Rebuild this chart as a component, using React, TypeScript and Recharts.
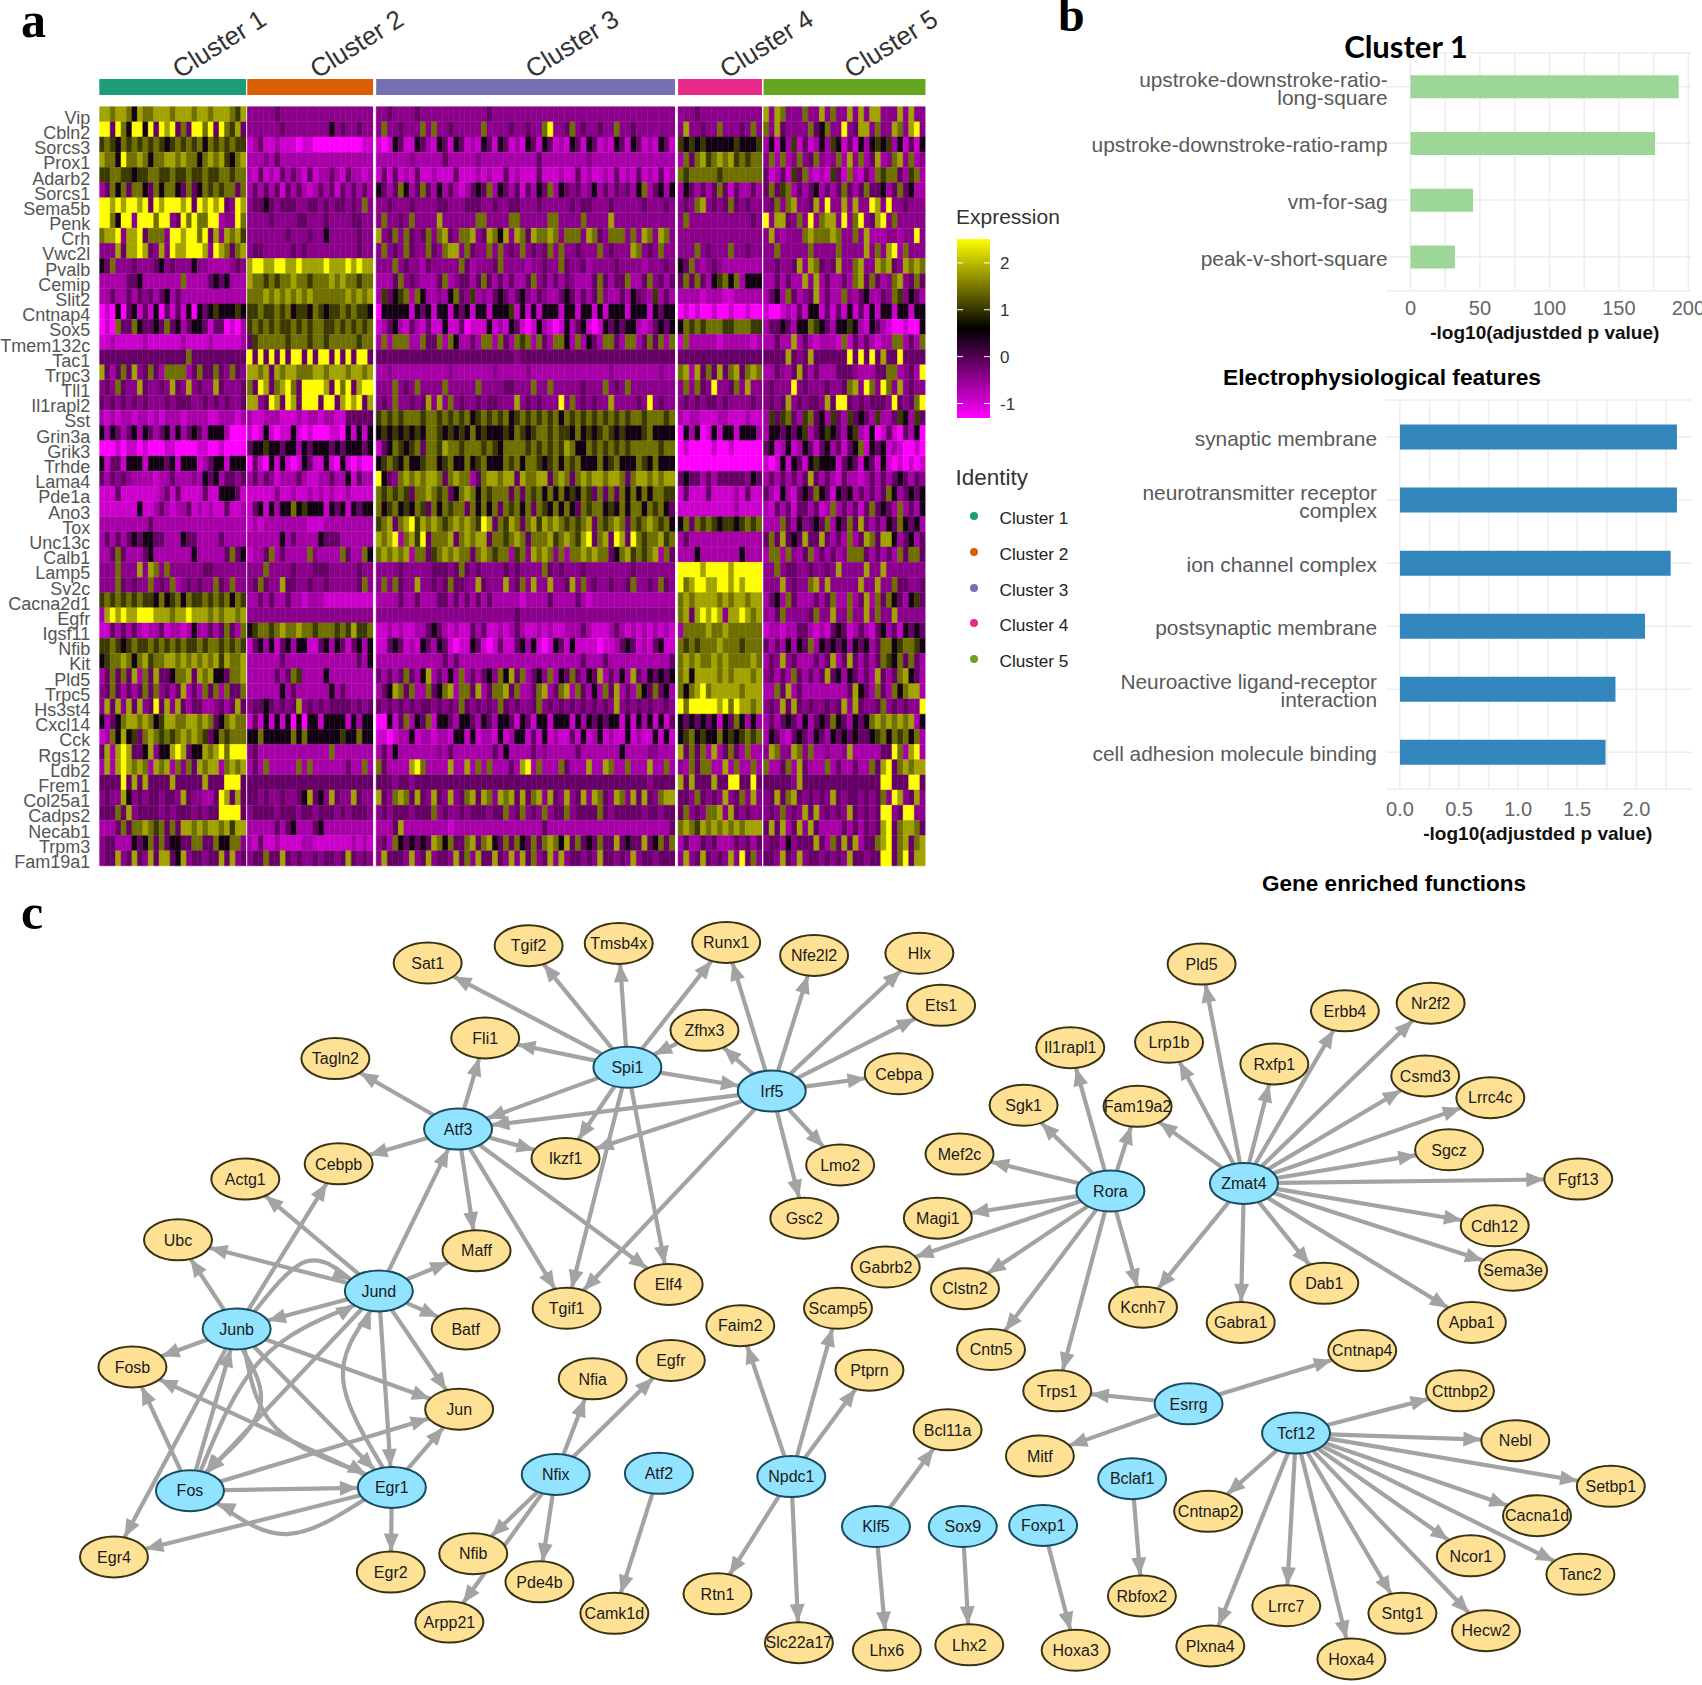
import { Bar, BarChart, CartesianGrid, Cell, ComposedChart, Line, Scatter, XAxis, YAxis } from 'recharts';

const genes = ['Vip', 'Cbln2', 'Sorcs3', 'Prox1', 'Adarb2', 'Sorcs1', 'Sema5b', 'Penk', 'Crh', 'Vwc2l', 'Pvalb', 'Cemip', 'Slit2', 'Cntnap4', 'Sox5', 'Tmem132c', 'Tac1', 'Trpc3', 'Tll1', 'Il1rapl2', 'Sst', 'Grin3a', 'Grik3', 'Trhde', 'Lama4', 'Pde1a', 'Ano3', 'Tox', 'Unc13c', 'Calb1', 'Lamp5', 'Sv2c', 'Cacna2d1', 'Egfr', 'Igsf11', 'Nfib', 'Kit', 'Pld5', 'Trpc5', 'Hs3st4', 'Cxcl14', 'Cck', 'Rgs12', 'Ldb2', 'Frem1', 'Col25a1', 'Cadps2', 'Necab1', 'Trpm3', 'Fam19a1'];
const clusterNames = ['Cluster 1', 'Cluster 2', 'Cluster 3', 'Cluster 4', 'Cluster 5'];
// estimated number of cells per cluster, and how many heat columns each one is read into
const clusterCells = [147, 126, 299, 84, 162];
const clusterColumns = [27, 23, 54, 15, 29];
const clusterGaps = [1, 3, 3, 1.5];
const clusterColors = ['#1B9E77', '#D95F02', '#7570B3', '#E7298A', '#66A61E'];

// expression per gene on a 0 (lowest) to 9 (highest) scale, one group per cluster
const heatRows = [
  '887887587788878887887888768 33333433333333333333333 334333343333333333334333333333333333333333333333333333 333433333333333 83873337338373383838833383833',
  '994975995949894749979497684 33333343333333353433433 373343337373343333373333433433793347343343373343333333 383343373334373 73843333745733934883733873893',
  '676576767676567676757676766 12411211101100000000011 101541154215415412154154121541541215415412154154121541 656565555565556 25152614125265141525656251415',
  '877597787577887877578786578 22232422222222222222222 222222322222422222322222222224222222223222222222222222 274786787867677 37272373473237283724823783723',
  '667766566776676676676677677 21412142421412242142212 141412141121114111212114121114111211412112141214121412 767777767777777 41241647212164172142767742672',
  '247574775475775474576767747 24242414242124241424242 542475247425242124547254241425472543423524243425724525 254242474142242 47467242452424742474452474522',
  '998989989498999894989894398 34454344433443434434373 334333433334433344433433443334333334344333433333433343 343783434743433 34737833483933838339839334333',
  '997599399979934979779923397 33334333344333433334433 373343733338333333773333773333377333373333833333333333 373333333333343 93884373937883937934893733333',
  '788938894777399899794838786 33333334333433533333433 834737434737843778348758387487787377738743777373873873 333333333333333 38323337877787337382223323393',
  '333848898438398899983987478 34433333434333333333433 373437433743788374337373437343473733433373433387343733 333734333733433 33733333733337333383738927333',
  '547333433345343335332222343 89988998898888988898988 333734332433333742333473333233433743342333343333233343 547323432222222 33433483874348337833878438787',
  '222224452222222722224545222 87767677877677787877677 222473432224723442474242422473424243222474244722473424 474742567572555 22424228382422427847423783474',
  '224224243424524222222222222 77787878787877777787878 264567275223257436232454245324322454242473224254326242 222212221122222 24527423482422732452243763542',
  '010504514150414150545655565 66766767566576566767665 055555154515515451551555615151555155155151555155515455 010100100100100 10012141551414151415155155155',
  '010744754454745245541440102 67676766767677667676767 124521421411511401115121541015210152451015454552124545 576767776677766 24454255765425565215421001005',
  '112111112111111211112111112 46777776777677677777677 272777227447275224277274276727427752725427742772474727 172222212222212 22422824212221714242122772427',
  '444444444444444474444444444 94949494994949949494994 444444444444444444444444434444444444444444444444444444 444444444444444 44448434844444494949484494444',
  '842474834742777724744743743 88784878877788788878878 223222222222232222222322222322222222222222322222222322 782847484784787 22432484242224443222447723429',
  '343743384334384383433843334 74984789749999849794899 333734373333733333733334433373373333343337343733333333 373743933473833 34333934333433478397397383433',
  '434343434333434443343434334 88349849849994994898948 343733434838373433434433383434333937343433833334393433 343434434333343 34348343443849943434443943479',
  '212122122121222122221122212 21122211121221221144444 676767776776767675676767567676767576767676767677677767 212211122111211 26467426745264264542622465264',
  '525424525424525245425552000 10151011510100011051515 565656565776565657565556576567767665756567656555675555 052501515515552 25545456245654256215014104250',
  '000101101000110000110010000 45565545525455545455545 145765674776877677767657777676767687557676767677777677 010000100100000 45125125414524145715451210010',
  '514415551555451555124551555 04105151015411510510100 567657556775675575675557675776567576755575675557657555 000000000000000 10151541565551454154151010101',
  '424343222212242223254524434 24243122242112242251422 954378787887478772478878848778847874787887887478878788 454424244444354 24242424842421422124242454243',
  '111411111112414111141155541 11111311211212121121111 767676477876745787576777474767575756576474747575757766 141114111121411 42152145475415452424247524545',
  '111111151124212241212114112 14515255756555154515455 756756576475767747575747675747657575476775657577576754 111111111121111 21424144241272424147454272425',
  '222222222422222222222222222 12122222222111222222222 678478968787678787698476874786878767678476787476787675 574767656656767 22274253454725474842425475452',
  '242424545544222544222242222 22222252422225444222222 878927869477784787884776787477786787689478498497677867 242222222222222 47484548448424272487488524524',
  '224742224522222225222224745 12247242222732222742275 787878277467878774787677267387873727787877457867678274 222522222225222 27727324724242377742424274774',
  '333733383873733333344333333 33373333433344433333433 333343333344434743433334343333743433343333333343333333 999989999899999 33734433433438333383383333333',
  '333743433734372343433743733 34743384433433433333473 373743383343474433843338347383383348373433433473343743 978998899898999 33383433783833333833833744334',
  '676767676657567576676767576 22424224221222111111111 222242242224424242424222221222242222421222222222222222 787888878788788 24527422242472272482747542564',
  '289898899988878898887878878 33333333333333333333333 333333333333333333333333343333333333333333333333333333 784898983889878 32473333473383373383733833333',
  '114242421224122125224247427 56776787787767776768667 112121122454212114241121242112121122242111242121212121 277778778777777 12212244212145412421452415454',
  '667656766767676766767767676 14525145255114525414525 114541215425410115410141145251015415111101124541214511 767677787776777 42425254725454525452477567765',
  '567787578677887878787868778 22222242222222222222425 222222222222424222222222222222222222242224222222222224 787877878777787 24383422242482484242476574742',
  '247474827484457784878554778 22222424762222522222222 424247425824252724245375847245372547425482425284254545 785888878788878 34242742424845254242842478542',
  '347424247473424824274727447 22222252422222252422222 245874722745782774824778472247824782742527482427547452 757897888887888 22748242222222248542742757882',
  '384838483494838424422342484 34454343483434344443434 434343434434343743434374343347343434343434383434343343 979999989798878 34384843433434838433473434339',
  '524578878756887788787457877 14151515050551555515255 005147254715542554254255415415515551525454551515251514 545454515475252 24245425245475425457878787825',
  '127585647876767878764576777 55755555757555555655755 110122512212215515122151255141512114151251211512115151 567565575656767 25421454254254545445675767572',
  '482898445835589845587897999 34222222222222272222222 242522222223242222222425222242322222422222225222233222 847472824742722 38733873722322382222244972892',
  '282898787287827374878827878 24272222272722222242272 742222897222282282727222428927222742228228722722282272 327477228272272 72247284222724224227489478788',
  '444494848444484444484449994 44444444444444444444444 444344344444444444444444444444444444444444444444434444 848444844994494 44444384444444444444499444994',
  '343385343443443843322498484 44343343345845384338433 843787484384383478487387848478384383483874387384843788 443743438347383 34847843434384344343473983483',
  '444748344443434443434499994 34444344434434443434443 343444344473433434443447347343734473444474344444344344 473437783843433 34373438483434384343499349933',
  '222474778767474887878878688 22222424522245222222222 222482222222212222222222222222422222222222222222222224 787687878787888 48482483842222424243489478874',
  '344222545747455447744755773 21411211112211111112121 342754545487574478478547475474787584745474484544845747 242243422243424 34425344484274848244789478478',
  '344834843848845834434484834 34474484343343443484343 384443834834438473844843838473483834434384434383443444 383484343839473 44384383443434384434499479488',
];
const levelColors = ['#FF00FF', '#CC00CC', '#A800A8', '#8B008B', '#660066', '#140014', '#3A3A00', '#707000', '#A3A300', '#FFFF00'];

const expressionTicks = [-1, 0, 1, 2];
const expressionRange = [-1.31, 2.51];

const ephysLabels = ['upstroke-downstroke-ratio-\nlong-square', 'upstroke-downstroke-ratio-ramp', 'vm-for-sag', 'peak-v-short-square'];
const ephysValues = [193, 176, 45, 32];
const ephysTicks = [0, 50, 100, 150, 200];
const ephysGrid = [0, 25, 50, 75, 100, 125, 150, 175, 200];

const functionLabels = ['synaptic membrane', 'neurotransmitter receptor\ncomplex', 'ion channel complex', 'postsynaptic membrane', 'Neuroactive ligand-receptor\ninteraction', 'cell adhesion molecule binding'];
const functionValues = [2.343, 2.343, 2.29, 2.073, 1.823, 1.739];
const functionTicks = [0, 0.5, 1, 1.5, 2];
const functionGrid = [0, 0.25, 0.5, 0.75, 1, 1.25, 1.5, 1.75, 2, 2.25];

// network, in picture units
const tfNodes: [string, number, number][] = [
  ['Spi1', 578, 983], ['Irf5', 711, 1005], ['Atf3', 422, 1040], ['Jund', 349, 1189], ['Junb', 218, 1224], ['Fos', 175, 1373], ['Egr1', 361, 1370], ['Nfix', 512, 1358], ['Atf2', 607, 1357], ['Npdc1', 729, 1360], ['Klf5', 807, 1406], ['Sox9', 887, 1406], ['Foxp1', 961, 1405], ['Rora', 1023, 1097], ['Zmat4', 1146, 1090], ['Esrrg', 1095, 1293], ['Bclaf1', 1043, 1362], ['Tcf12', 1194, 1320],
];
const targetNodes: [string, number, number][] = [
  ['Sat1', 394, 887], ['Tgif2', 487, 871], ['Tmsb4x', 570, 869], ['Runx1', 669, 868], ['Nfe2l2', 750, 880], ['Hlx', 847, 878], ['Ets1', 867, 926], ['Zfhx3', 649, 949], ['Fli1', 447, 956], ['Tagln2', 309, 975], ['Cebpa', 828, 989], ['Lmo2', 774, 1073], ['Ikzf1', 521, 1067], ['Cebpb', 312, 1072], ['Actg1', 226, 1086], ['Ubc', 164, 1142], ['Maff', 439, 1152], ['Gsc2', 741, 1122], ['Batf', 429, 1224], ['Tgif1', 522, 1205], ['Elf4', 616, 1183], ['Fosb', 122, 1259], ['Jun', 423, 1298], ['Egr4', 105, 1434], ['Egr2', 360, 1448], ['Nfia', 546, 1270], ['Egfr', 618, 1253], ['Faim2', 682, 1221], ['Scamp5', 772, 1205], ['Ptprn', 801, 1262], ['Nfib', 436, 1431], ['Pde4b', 497, 1457], ['Arpp21', 414, 1494], ['Camk1d', 566, 1486], ['Rtn1', 661, 1468], ['Slc22a17', 736, 1513], ['Lhx6', 817, 1520], ['Lhx2', 893, 1515], ['Hoxa3', 991, 1520], ['Bcl11a', 873, 1317], ['Mitf', 958, 1341], ['Rbfox2', 1052, 1470], ['Cntnap2', 1113, 1392], ['Plxna4', 1115, 1516], ['Lrrc7', 1185, 1479], ['Hoxa4', 1245, 1528], ['Sntg1', 1292, 1486], ['Hecw2', 1369, 1502], ['Ncor1', 1355, 1433], ['Tanc2', 1456, 1450], ['Cacna1d', 1416, 1396], ['Setbp1', 1484, 1369], ['Nebl', 1396, 1327], ['Cttnbp2', 1345, 1281], ['Cntnap4', 1255, 1244], ['Trps1', 974, 1281], ['Cntn5', 913, 1243], ['Clstn2', 889, 1187], ['Gabrb2', 816, 1167], ['Magi1', 864, 1122], ['Mef2c', 884, 1063], ['Sgk1', 943, 1018], ['Il1rapl1', 986, 965], ['Fam19a2', 1048, 1019], ['Lrp1b', 1077, 960], ['Pld5', 1107, 888], ['Rxfp1', 1174, 980], ['Erbb4', 1239, 931], ['Nr2f2', 1318, 924], ['Csmd3', 1313, 991], ['Lrrc4c', 1373, 1011], ['Sgcz', 1335, 1059], ['Fgf13', 1454, 1086], ['Cdh12', 1377, 1129], ['Sema3e', 1394, 1170], ['Apba1', 1356, 1218], ['Dab1', 1220, 1182], ['Gabra1', 1143, 1218], ['Kcnh7', 1053, 1204],
];
const regulations: [string, string[]][] = [
  ['Spi1', ['Sat1', 'Tgif2', 'Tmsb4x', 'Runx1', 'Fli1', 'Irf5', 'Atf3', 'Ikzf1', 'Tgif1', 'Elf4']],
  ['Zfhx3', ['Spi1']],
  ['Irf5', ['Runx1', 'Nfe2l2', 'Hlx', 'Ets1', 'Zfhx3', 'Cebpa', 'Lmo2', 'Gsc2', 'Atf3', 'Ikzf1', 'Tgif1']],
  ['Atf3', ['Tagln2', 'Fli1', 'Cebpb', 'Ikzf1', 'Maff', 'Tgif1', 'Elf4']],
  ['Jund', ['Atf3', 'Maff', 'Batf', 'Jun', 'Egr1', 'Actg1', 'Ubc', 'Junb', 'Fos']],
  ['Junb', ['Ubc', 'Cebpb', 'Fosb', 'Jun', 'Egr1', 'Egr4']],
  ['Fos', ['Fosb', 'Junb', 'Egr1', 'Jun']],
  ['Egr1', ['Jun', 'Egr2', 'Egr4', 'Fosb']],
  ['Nfix', ['Nfia', 'Egfr', 'Nfib', 'Pde4b', 'Arpp21']],
  ['Atf2', ['Camk1d']],
  ['Npdc1', ['Faim2', 'Scamp5', 'Ptprn', 'Rtn1', 'Slc22a17']],
  ['Klf5', ['Bcl11a', 'Lhx6']],
  ['Sox9', ['Lhx2']],
  ['Foxp1', ['Hoxa3']],
  ['Bclaf1', ['Rbfox2']],
  ['Esrrg', ['Trps1', 'Mitf', 'Cntnap4']],
  ['Rora', ['Sgk1', 'Il1rapl1', 'Fam19a2', 'Mef2c', 'Magi1', 'Gabrb2', 'Clstn2', 'Cntn5', 'Trps1', 'Kcnh7']],
  ['Zmat4', ['Fam19a2', 'Lrp1b', 'Pld5', 'Rxfp1', 'Erbb4', 'Nr2f2', 'Csmd3', 'Lrrc4c', 'Sgcz', 'Fgf13', 'Cdh12', 'Sema3e', 'Apba1', 'Dab1', 'Gabra1', 'Kcnh7']],
  ['Tcf12', ['Cttnbp2', 'Nebl', 'Setbp1', 'Cacna1d', 'Tanc2', 'Ncor1', 'Hecw2', 'Sntg1', 'Hoxa4', 'Lrrc7', 'Plxna4', 'Cntnap2']],
];
const curvedRegulations: [string, string, number, number][] = [
  ['Junb', 'Jund', 282, 1162],
  ['Fos', 'Jund', 240, 1253],
  ['Junb', 'Fos', 239, 1298],
  ['Junb', 'Egr1', 254, 1315],
  ['Egr1', 'Jund', 316, 1270],
  ['Egr1', 'Fos', 264, 1413],
];

// heat table
const heatColumns: { key: string; size: number; cluster: number; col: number; gap: boolean }[] = [];
clusterColumns.forEach((count, c) => {
  for (let i = 0; i < count; i++) heatColumns.push({ key: `c${c}_${i}`, size: clusterCells[c] / count, cluster: c, col: i, gap: false });
  if (c < clusterGaps.length) heatColumns.push({ key: `gap${c}`, size: clusterGaps[c], cluster: c, col: -1, gap: true });
});
const heatLevels = heatRows.map((row) => {
  const groups = row.split(' ');
  return clusterColumns.map((count, c) => groups[c].padEnd(count, groups[c].slice(-1)).slice(0, count));
});
const heatTable = genes.map((gene) => {
  const entry: Record<string, any> = { gene };
  heatColumns.forEach((col) => { entry[col.key] = col.size; });
  return entry;
});
const heatTotal = heatColumns.reduce((sum, col) => sum + col.size, 0);

const annotRow: Record<string, any> = { row: 'identity' };
clusterCells.forEach((cells, c) => {
  annotRow[`cluster${c}`] = cells;
  if (c < clusterGaps.length) annotRow[`space${c}`] = clusterGaps[c];
});
const clusterCenters = clusterCells.map((cells, c) => {
  let before = 0;
  for (let i = 0; i < c; i++) before += clusterCells[i] + clusterGaps[i];
  return before + cells / 2;
});

// network edges
const allNodes = [
  ...tfNodes.map(([name, x, y]) => ({ name, x, y, tf: true })),
  ...targetNodes.map(([name, x, y]) => ({ name, x, y, tf: false })),
];
const nodeByName = Object.fromEntries(allNodes.map((n) => [n.name, n]));
const NODE_RX = 31.3;
const NODE_RY = 18.9;

function onRim(center: { x: number; y: number }, toward: { x: number; y: number }) {
  const dx = toward.x - center.x;
  const dy = toward.y - center.y;
  const t = 1 / Math.sqrt((dx / NODE_RX) ** 2 + (dy / NODE_RY) ** 2);
  return { x: center.x + dx * t, y: center.y + dy * t };
}

function withArrow(points: { x: number; y: number }[]) {
  const a = points[points.length - 2];
  const b = points[points.length - 1];
  const angle = (Math.atan2(b.y - a.y, b.x - a.x) * 180) / Math.PI;
  return points.map((p, i) => (i === points.length - 1 ? { ...p, angle } : p));
}

const straightEdges = regulations.flatMap(([from, tos]) => tos.map((to) => {
  const a = nodeByName[from];
  const b = nodeByName[to];
  return withArrow([onRim(a, b), onRim(b, a)]);
}));
const curvedEdges = curvedRegulations.map(([from, to, x, y]) => {
  const mid = { x, y };
  return withArrow([onRim(nodeByName[from], mid), mid, onRim(nodeByName[to], mid)]);
});

const SANS = '"Liberation Sans", Arial, sans-serif';

function Txt({ x, y, size, children, weight = 400, color = '#000', family = SANS, center = false, squeeze = 1 }: any) {
  return (
    <div style={{ position: 'absolute', left: x, top: y, fontSize: size, fontWeight: weight, color, fontFamily: family, lineHeight: 1, whiteSpace: 'nowrap', transform: `translate(${center ? '-50%' : '0'}, -50%) scaleX(${squeeze})`, transformOrigin: center ? 'center' : 'left center' }}>
      {children}
    </div>
  );
}

function GeneTick({ x, y, payload }: any) {
  return (
    <text x={x} y={y + 3} dy="0.36em" textAnchor="end" fontFamily={SANS} fontSize={18} fill="#555">
      {payload.value}
    </text>
  );
}

function HeatmapPanel() {
  return (
    <div style={{ position: 'absolute', left: 0, top: 100 }}>
      <BarChart width={930} height={775} layout="vertical" data={heatTable} barCategoryGap={0} barGap={0} margin={{ top: 6.7, right: 4.5, bottom: 9, left: 0 }}>
        <XAxis type="number" hide domain={[0, heatTotal]} allowDataOverflow />
        <YAxis type="category" dataKey="gene" width={99.3} interval={0} axisLine={false} tickLine={false} tickSize={0} tickMargin={9} tick={GeneTick} />
        {heatColumns.map((col) => (
          <Bar key={col.key} dataKey={col.key} stackId="cells" fill="#fff" isAnimationActive={false}>
            {!col.gap && heatLevels.map((levels, r) => {
              const color = levelColors[Number(levels[col.cluster][col.col])];
              return <Cell key={r} fill={color} stroke={color} strokeWidth={0.5} />;
            })}
          </Bar>
        ))}
      </BarChart>
    </div>
  );
}

function ClusterTick({ x, y, index }: any) {
  return (
    <text x={x + 7} y={y} textAnchor="start" fontFamily={SANS} fontSize={26} fill="#333" transform={`rotate(-32 ${x + 7} ${y})`}>
      {clusterNames[index]}
    </text>
  );
}

function ClusterBarPanel() {
  return (
    <div style={{ position: 'absolute', left: 0, top: 0 }}>
      <BarChart width={960} height={100} layout="vertical" data={[annotRow]} barCategoryGap={0} margin={{ top: 0, right: 34.5, bottom: 5.3, left: 99.3 }}>
        <XAxis type="number" orientation="top" height={79} domain={[0, heatTotal]} ticks={clusterCenters} interval={0} axisLine={false} tickLine={false} tickSize={0} tickMargin={0} tick={ClusterTick} />
        <YAxis type="category" dataKey="row" hide />
        {clusterCells.map((_, c) => [
          <Bar key={`cluster${c}`} dataKey={`cluster${c}`} stackId="annot" fill={clusterColors[c]} isAnimationActive={false} />,
          c < clusterGaps.length ? <Bar key={`space${c}`} dataKey={`space${c}`} stackId="annot" fill="#fff" isAnimationActive={false} /> : null,
        ])}
      </BarChart>
    </div>
  );
}

function ExpressionTick({ x, y, payload }: any) {
  return (
    <g>
      <line x1={x - 33} x2={x - 27} y1={y} y2={y} stroke="#fff" strokeWidth={1} />
      <line x1={x - 6} x2={x} y1={y} y2={y} stroke="#fff" strokeWidth={1} />
      <text x={x + 10} y={y} dy="0.36em" fontFamily={SANS} fontSize={17} fill="#333">{payload.value}</text>
    </g>
  );
}

function ColorbarPanel() {
  return (
    <div style={{ position: 'absolute', left: 957, top: 239 }}>
      <BarChart width={70} height={179} data={[{ name: 'Expression', range: expressionRange }]} barCategoryGap={0} margin={{ top: 0, right: 0, bottom: 0, left: 0 }}>
        <defs>
          <linearGradient id="exprGrad" x1="0" y1="0" x2="0" y2="1">
            <stop offset="0" stopColor="#FFFF00" />
            <stop offset="0.5" stopColor="#000000" />
            <stop offset="1" stopColor="#FF00FF" />
          </linearGradient>
        </defs>
        <XAxis dataKey="name" hide />
        <YAxis type="number" orientation="right" width={37} domain={expressionRange} ticks={expressionTicks} interval={0} axisLine={false} tickLine={false} tickSize={0} tickMargin={0} tick={ExpressionTick} />
        <Bar dataKey="range" fill="url(#exprGrad)" isAnimationActive={false} />
      </BarChart>
    </div>
  );
}

function EnrichChart({ top, height, labels, values, ticks, grid, color, domain, plotTop, plotBottom, pad, barSize, labelShift, titleShift, titleOffset, tickGap, tickFormat }: any) {
  const data = labels.map((label: string, i: number) => ({ label, value: values[i] }));
  const Tick = ({ x, y, payload }: any) => {
    const lines = String(payload.value).split('\n');
    const start = y + 1.5 - ((lines.length - 1) * 18) / 2;
    return (
      <text x={x + labelShift} y={start} textAnchor="end" fontFamily={SANS} fontSize={20.9} fill="#595959">
        {lines.map((line, i) => <tspan key={i} x={x + labelShift} dy={i === 0 ? '0.36em' : 18}>{line}</tspan>)}
      </text>
    );
  };
  return (
    <div style={{ position: 'absolute', left: 1000, top }}>
      <BarChart width={702} height={height} layout="vertical" data={data} margin={{ top: plotTop, right: 10.4, bottom: plotBottom, left: 0 }}>
        <CartesianGrid stroke="#ededed" strokeWidth={1.5} verticalValues={grid} />
        <XAxis type="number" domain={domain} allowDataOverflow ticks={ticks} interval={0} height={56} axisLine={false} tickLine={false} tickSize={0} tickMargin={tickGap} tickFormatter={tickFormat} tick={{ fontFamily: SANS, fontSize: 20, fill: '#666' }}
          label={{ value: '-log10(adjustded p value)', position: 'insideBottom', offset: titleOffset, dx: titleShift, style: { fontFamily: SANS, fontSize: 19, fontWeight: 700, fill: '#111' } }} />
        <YAxis type="category" dataKey="label" width={386} interval={0} padding={{ top: pad, bottom: pad }} axisLine={false} tickLine={false} tickSize={0} tickMargin={0} tick={Tick} />
        <Bar dataKey="value" fill={color} barSize={barSize} isAnimationActive={false} />
      </BarChart>
    </div>
  );
}

function ArrowDot({ cx, cy, payload }: any) {
  if (payload.angle === undefined) return <g />;
  return <polygon points="0,0 -18,-7.5 -18,7.5" fill="#a3a3a3" transform={`translate(${cx} ${cy}) rotate(${payload.angle})`} />;
}

function NodeShape({ cx, cy, payload }: any) {
  return (
    <g>
      <ellipse cx={cx} cy={cy} rx={34} ry={20.5} fill={payload.tf ? '#92E3FF' : '#FFE196'} stroke={payload.tf ? '#174a5e' : '#3a3312'} strokeWidth={2} />
      <text x={cx} y={cy} dy="0.36em" textAnchor="middle" fontFamily={SANS} fontSize={16} fill="#1a1a1a">{payload.name}</text>
    </g>
  );
}

function NetworkPanel() {
  return (
    <div style={{ position: 'absolute', left: 0, top: 0 }}>
      <ComposedChart width={1702} height={1685} margin={{ top: 0, right: 0, bottom: 0, left: 0 }}>
        <XAxis type="number" dataKey="x" hide domain={[0, 1568]} allowDataOverflow />
        <YAxis type="number" dataKey="y" hide reversed domain={[0, 1552]} allowDataOverflow />
        {straightEdges.map((points, i) => (
          <Line key={`s${i}`} data={points} dataKey="y" type="linear" stroke="#a3a3a3" strokeWidth={4.2} dot={(p: any) => <ArrowDot key={p.index} {...p} />} activeDot={false} legendType="none" isAnimationActive={false} />
        ))}
        {curvedEdges.map((points, i) => (
          <Line key={`c${i}`} data={points} dataKey="y" type="natural" stroke="#a3a3a3" strokeWidth={4.2} dot={(p: any) => <ArrowDot key={p.index} {...p} />} activeDot={false} legendType="none" isAnimationActive={false} />
        ))}
        <Scatter data={allNodes} dataKey="y" shape={NodeShape} isAnimationActive={false} />
      </ComposedChart>
    </div>
  );
}

export default function App() {
  return (
    <div style={{ position: 'absolute', left: 0, top: 0, width: 1702, height: 1685, background: '#fff', overflow: 'hidden' }}>
      <NetworkPanel />
      <ClusterBarPanel />
      <HeatmapPanel />
      <ColorbarPanel />
      <EnrichChart top={40} height={310} labels={ephysLabels} values={ephysValues} ticks={ephysTicks} grid={ephysGrid} color="#9CD797" domain={[-17.6, 202.3]} plotTop={12.7} plotBottom={3.3} pad={5.6} barSize={23} labelShift={1.6} titleShift={6} titleOffset={8} tickGap={10} />
      <EnrichChart top={390} height={458} labels={functionLabels} values={functionValues} ticks={functionTicks} grid={functionGrid} color="#3286BC" domain={[-0.118, 2.467]} plotTop={10} plotBottom={2.7} pad={5.6} barSize={25} labelShift={-9} titleShift={-1} titleOffset={5} tickGap={12} tickFormat={(v: number) => v.toFixed(1)} />

      <Txt x={21} y={20} size={50} weight={700} family='"Liberation Serif", serif'>a</Txt>
      <Txt x={1058} y={15} size={48} weight={700} family='"Liberation Serif", serif'>b</Txt>
      <Txt x={21} y={912} size={50} weight={700} family='"Liberation Serif", serif'>c</Txt>

      <Txt x={956} y={216} size={21} color="#333">Expression</Txt>
      <Txt x={955.5} y={478} size={22.5} color="#333">Identity</Txt>
      {clusterNames.map((name, c) => (
        <div key={name}>
          <div style={{ position: 'absolute', left: 969.5, top: 512 + c * 35.8, width: 8, height: 8, borderRadius: '50%', background: clusterColors[c] }} />
          <Txt x={999.5} y={519 + c * 35.8} size={17.2} color="#222">{name}</Txt>
        </div>
      ))}

      <Txt x={1406} y={45.5} size={31} weight={700} family="Lato, sans-serif" center>Cluster 1</Txt>
      <Txt x={1382} y={377} size={22.8} weight={700} center>Electrophysiological features</Txt>
      <Txt x={1394} y={884} size={22.5} weight={700} center>Gene enriched functions</Txt>
    </div>
  );
}
